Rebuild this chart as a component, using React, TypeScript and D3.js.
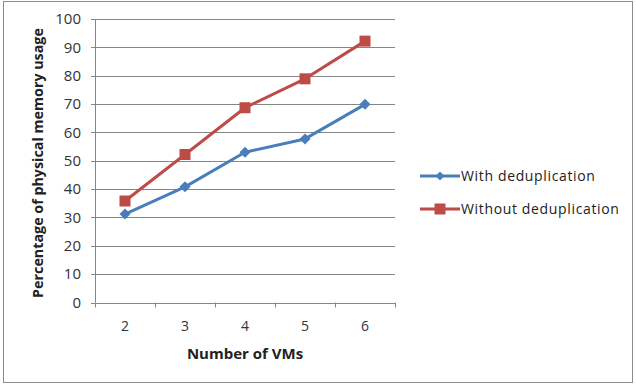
import React from "react";
import * as d3 from "d3";

const categories = ["2", "3", "4", "5", "6"];
const withDedup = [31.2, 40.8, 53, 57.7, 69.9];
const withoutDedup = [35.8, 52.2, 68.7, 78.9, 92.2];
const yTicks = [0, 10, 20, 30, 40, 50, 60, 70, 80, 90, 100];
const seriesNames = ["With deduplication", "Without deduplication"];

const BLUE = "#4a7ebb";
const RED = "#be4b48";
const FONT = "'Open Sans', 'Liberation Sans', sans-serif";

export default function App() {
  const x = d3.scaleBand().domain(categories).range([95, 395]);
  const y = d3.scaleLinear().domain([0, 100]).range([302.5, 19]);
  const cx = (c: string) => (x(c) as number) + x.bandwidth() / 2;
  const line = d3
    .line<number>()
    .x((_, i) => cx(categories[i]))
    .y((d) => y(d));
  const diamond = (s: number) => `M0,${-s}L${s},0L0,${s}L${-s},0Z`;
  const edges = [...categories.map((c) => x(c) as number), 395];

  return (
    <svg
      width={636}
      height={385}
      style={{ position: "absolute", left: 0, top: 0, background: "#fff" }}
    >
      <rect x={3.5} y={1.5} width={629} height={381} fill="#fff" stroke="#8c8c8c" strokeWidth={1} />
      {yTicks.map((t) => (
        <g key={t}>
          <line x1={91} x2={395} y1={Math.round(y(t)) + 0.5} y2={Math.round(y(t)) + 0.5} stroke="#868686" strokeWidth={1} />
          <text x={81} y={y(t) + 5.3} textAnchor="end" fontFamily={FONT} fontSize={15} fill="#333">
            {t}
          </text>
        </g>
      ))}
      <line x1={95.5} x2={95.5} y1={y(100)} y2={y(0)} stroke="#868686" />
      {edges.map((e, i) => (
        <line key={i} x1={e + 0.5} x2={e + 0.5} y1={y(0)} y2={y(0) + 5} stroke="#868686" />
      ))}
      {categories.map((c) => (
        <text key={c} x={cx(c)} y={331} textAnchor="middle" fontFamily={FONT} fontSize={14} fill="#333">
          {c}
        </text>
      ))}
      <text x={245} y={358.5} textAnchor="middle" fontFamily={FONT} fontSize={15} fontWeight="bold" fill="#222">
        Number of VMs
      </text>
      <text
        transform={`translate(43,163) rotate(-90)`}
        textAnchor="middle"
        fontFamily={FONT}
        fontSize={14.3}
        fontWeight="bold"
        fill="#222"
      >
        Percentage of physical memory usage
      </text>

      <path d={line(withDedup) || ""} fill="none" stroke={BLUE} strokeWidth={3} strokeLinejoin="round" />
      <path d={line(withoutDedup) || ""} fill="none" stroke={RED} strokeWidth={3} strokeLinejoin="round" />
      {withDedup.map((v, i) => (
        <path key={"b" + i} d={diamond(5.5)} transform={`translate(${cx(categories[i])},${y(v)})`} fill={BLUE} />
      ))}
      {withoutDedup.map((v, i) => (
        <rect key={"r" + i} x={cx(categories[i]) - 5.5} y={y(v) - 5.5} width={11} height={11} fill={RED} />
      ))}

      <g>
        <line x1={420} x2={460} y1={176} y2={176} stroke={BLUE} strokeWidth={3} />
        <path d={diamond(4.5)} transform="translate(440,176)" fill={BLUE} />
        <text x={461} y={181} fontFamily={FONT} fontSize={14} letterSpacing={0.65} fill="#222">
          {seriesNames[0]}
        </text>
        <line x1={420} x2={460} y1={209} y2={209} stroke={RED} strokeWidth={3} />
        <rect x={434.5} y={203.5} width={11} height={11} fill={RED} />
        <text x={461} y={214} fontFamily={FONT} fontSize={14} letterSpacing={0.65} fill="#222">
          {seriesNames[1]}
        </text>
      </g>
    </svg>
  );
}
